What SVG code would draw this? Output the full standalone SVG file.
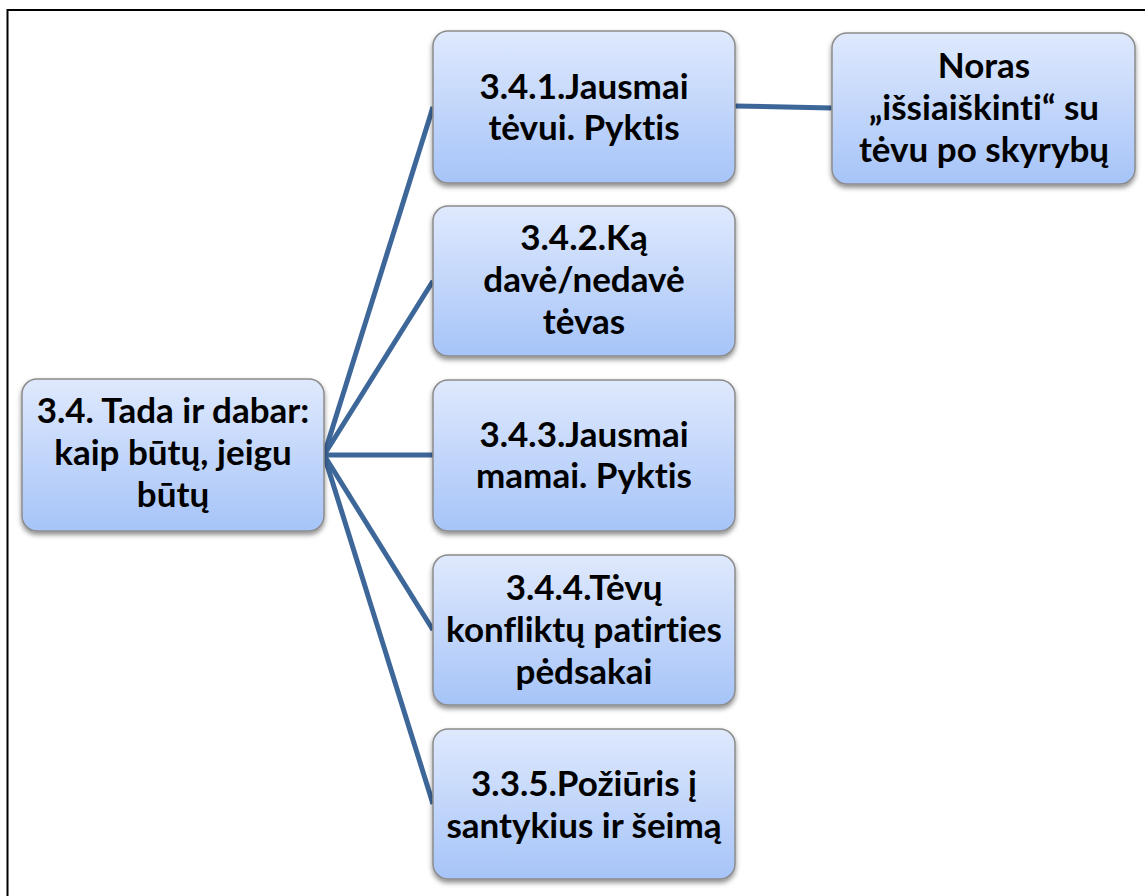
<svg xmlns="http://www.w3.org/2000/svg" width="1145" height="896" viewBox="0 0 1145 896">
<defs>
<linearGradient id="g" x1="0" y1="0" x2="0" y2="1">
<stop offset="0" stop-color="#dfe9fd"/>
<stop offset="1" stop-color="#a6c4f8"/>
</linearGradient>
<filter id="sh" x="-10%" y="-10%" width="120%" height="130%">
<feDropShadow dx="0" dy="3" stdDeviation="2.5" flood-color="#000" flood-opacity="0.45"/>
</filter>
</defs>
<style>
.box{fill:url(#g);stroke:#8c8c8c;stroke-width:1.5;filter:url(#sh)}
.t{font-family:Lato,"Liberation Sans",sans-serif;font-weight:700;font-size:35px;fill:#000;text-anchor:middle;font-variant-ligatures:none;font-feature-settings:"liga" 0}
.c{stroke:#3d6699;stroke-width:5;fill:none}
</style>
<rect x="0" y="0" width="1145" height="896" fill="#fff"/>
<rect x="7.5" y="10" width="1150" height="900" fill="none" stroke="#000" stroke-width="2"/>
<g id="connectors">
<line class="c" x1="324" y1="455" x2="433" y2="107"/>
<line class="c" x1="324" y1="455" x2="433" y2="281"/>
<line class="c" x1="324" y1="455" x2="433" y2="455"/>
<line class="c" x1="324" y1="455" x2="433" y2="630"/>
<line class="c" x1="324" y1="455" x2="433" y2="804"/>
<line class="c" x1="735" y1="106" x2="832" y2="108"/>
</g>
<g id="n0">
<rect class="box" x="22" y="379" width="302" height="152" rx="15"/>
<text class="t" x="173" y="423">3.4. Tada ir dabar:</text>
<text class="t" x="173" y="465">kaip būtų, jeigu</text>
<text class="t" x="173" y="507">būtų</text>
</g>
<g id="n1">
<rect class="box" x="433" y="31" width="302" height="152" rx="15"/>
<text class="t" x="584" y="99">3.4.1.Jausmai</text>
<text class="t" x="584" y="140">tėvui. Pyktis</text>
</g>
<g id="n2">
<rect class="box" x="433" y="206" width="302" height="150" rx="15"/>
<text class="t" x="584" y="250">3.4.2.Ką</text>
<text class="t" x="584" y="292">davė/nedavė</text>
<text class="t" x="584" y="334">tėvas</text>
</g>
<g id="n3">
<rect class="box" x="433" y="380" width="302" height="151" rx="15"/>
<text class="t" x="584" y="447">3.4.3.Jausmai</text>
<text class="t" x="584" y="488">mamai. Pyktis</text>
</g>
<g id="n4">
<rect class="box" x="433" y="555" width="302" height="150" rx="15"/>
<text class="t" x="584" y="600">3.4.4.Tėvų</text>
<text class="t" x="584" y="642">konfliktų patirties</text>
<text class="t" x="584" y="684">pėdsakai</text>
</g>
<g id="n5">
<rect class="box" x="433" y="729" width="302" height="150" rx="15"/>
<text class="t" x="584" y="796">3.3.5.Požiūris į</text>
<text class="t" x="584" y="838">santykius ir šeimą</text>
</g>
<g id="n6">
<rect class="box" x="832" y="33" width="303" height="151" rx="15"/>
<text class="t" x="984" y="78">Noras</text>
<text class="t" x="984" y="120">„išsiaiškinti“ su</text>
<text class="t" x="984" y="162">tėvu po skyrybų</text>
</g>
</svg>
